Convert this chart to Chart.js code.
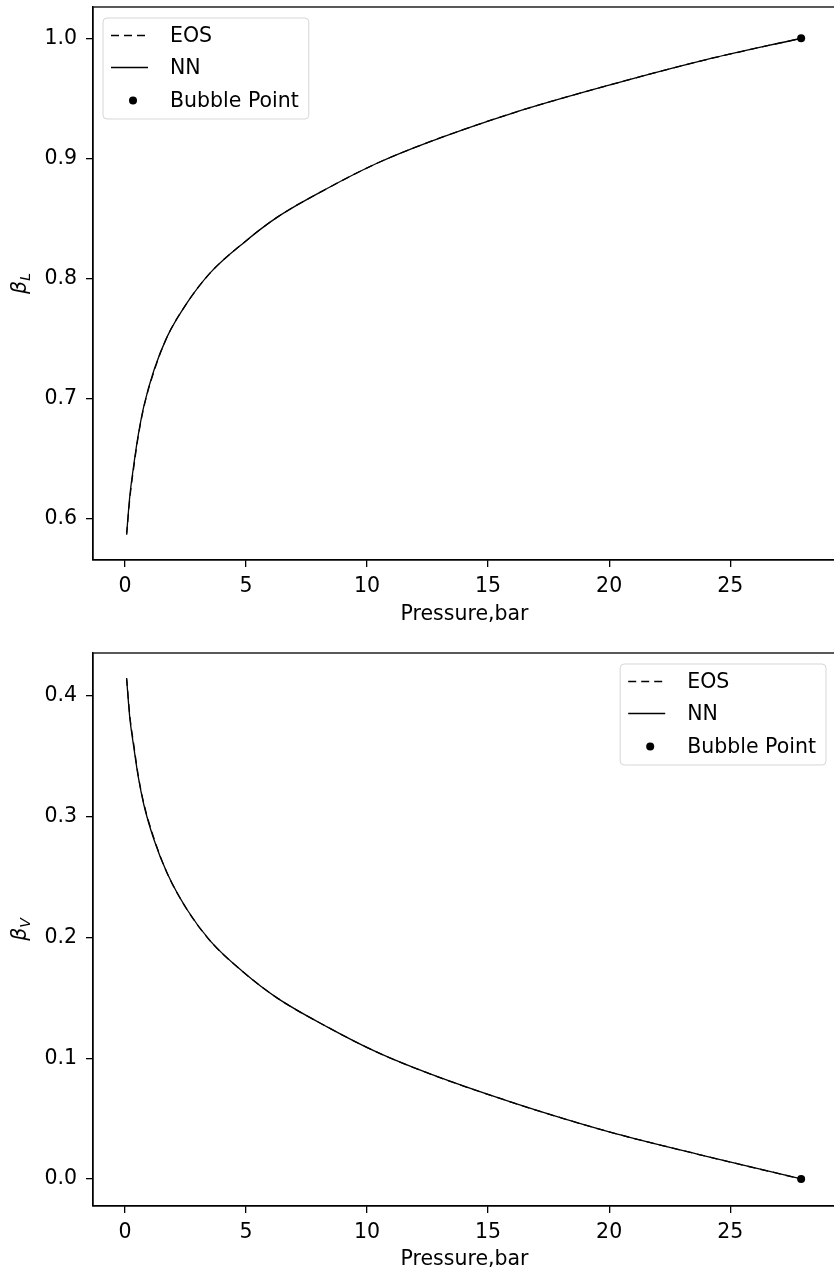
<!DOCTYPE html>
<html>
<head>
<meta charset="utf-8">
<script src="https://cdn.jsdelivr.net/npm/chart.js@4.4.1/dist/chart.umd.min.js"></script>
<style>
    html, body { margin: 0; padding: 0; background: #fff; overflow: hidden; }
    #wrap { position: relative; width: 834px; height: 1274px; overflow: hidden; }
    canvas { position: absolute; left: 0; }
    #chartLiquid { top: 0; }
    #chartVapor { top: 640px; }
</style>
</head>
<body>
<div id="wrap">
    <canvas id="chartLiquid" width="840" height="640"></canvas>
    <canvas id="chartVapor" width="840" height="634"></canvas>
</div>
<script>
// valores
const pressure = [0.07, 0.2, 0.37, 0.55, 0.78, 1.2, 1.75, 2.57, 3.53, 4.91, 6.28, 8.35, 10.41, 12.47,
    16.05, 20.0, 23.76, 27.93];
const eosLiquid = [0.587, 0.617, 0.644, 0.669, 0.693, 0.723, 0.752, 0.780, 0.805, 0.830, 0.851, 0.875,
    0.896, 0.913, 0.938, 0.961, 0.981, 1.0];
const nnLiquid = [0.588, 0.619, 0.646, 0.670, 0.694, 0.724, 0.752, 0.780, 0.805, 0.830, 0.851, 0.875,
    0.896, 0.913, 0.938, 0.961, 0.981, 1.0];
const eosVapor = [0.415, 0.384, 0.359, 0.334, 0.311, 0.282, 0.253, 0.223, 0.197, 0.171, 0.150, 0.126,
    0.105, 0.088, 0.063, 0.039, 0.020, 0.0];
const nnVapor = [0.414, 0.382, 0.357, 0.333, 0.310, 0.281, 0.253, 0.223, 0.197, 0.171, 0.150, 0.126,
    0.105, 0.088, 0.063, 0.039, 0.020, 0.0];
const bubblePressure = [27.93];
const bubbleLiquid = [1.0];
const bubbleVapor = [0.0];

const xTicks = [0, 5, 10, 15, 20, 25];
const yTicksLiquid = [0.6, 0.7, 0.8, 0.9, 1.0];
const yTicksVapor = [0.0, 0.1, 0.2, 0.3, 0.4];

const FONT = '"DejaVu Sans", sans-serif';
const FONT_SIZE = 20.5;

const toPoints = (xs, ys) => xs.map((x, i) => ({ x, y: ys[i] }));

// marco completo (los 4 lados) como en matplotlib
const framePlugin = {
    id: 'frame',
    afterDatasetsDraw(chart) {
        const { ctx, chartArea: a } = chart;
        ctx.save();
        ctx.strokeStyle = '#000';
        ctx.lineWidth = 1.3;
        ctx.strokeRect(a.left, a.top, a.right - a.left, a.bottom - a.top);
        ctx.restore();
    }
};

// titulo del eje y con subindice (beta_L / beta_V)
const yTitlePlugin = (symbol, sub) => ({
    id: 'yTitle',
    afterDraw(chart) {
        const { ctx, chartArea: a } = chart;
        const cy = (a.top + a.bottom) / 2;
        ctx.save();
        ctx.translate(20, cy);
        ctx.rotate(-Math.PI / 2);
        ctx.fillStyle = '#000';
        ctx.textBaseline = 'alphabetic';
        ctx.textAlign = 'left';
        ctx.font = `italic ${FONT_SIZE}px ${FONT}`;
        const w1 = ctx.measureText(symbol).width;
        ctx.font = `italic 14px ${FONT}`;
        const w2 = ctx.measureText(sub).width;
        const start = -(w1 + w2) / 2;
        ctx.font = `italic ${FONT_SIZE}px ${FONT}`;
        ctx.fillText(symbol, start, 6);
        ctx.font = `italic 14px ${FONT}`;
        ctx.fillText(sub, start + w1, 10);
        ctx.restore();
    }
});

// leyenda dentro del area del grafico
const legendBoxPlugin = (corner) => ({
    id: 'legendBox',
    afterDraw(chart) {
        const { ctx, chartArea: a } = chart;
        const items = chart.data.datasets;
        ctx.save();
        ctx.font = `${FONT_SIZE}px ${FONT}`;
        const textW = Math.max(...items.map(d => ctx.measureText(d.label).width));
        const w = 67 + textW + 10;
        const h = 101;
        const left = corner === 'left' ? a.left + 10 : a.right - 10 - w;
        const top = a.top + 11;

        ctx.beginPath();
        ctx.roundRect(left, top, w, h, 4);
        ctx.fillStyle = 'rgba(255,255,255,0.8)';
        ctx.fill();
        ctx.strokeStyle = 'rgba(204,204,204,0.8)';
        ctx.lineWidth = 1;
        ctx.stroke();

        const rows = [17.5, 49.5, 82.5];
        items.forEach((d, i) => {
            const y = top + rows[i];
            if (d.showLine) {
                ctx.beginPath();
                ctx.setLineDash(d.borderDash || []);
                ctx.strokeStyle = d.borderColor;
                ctx.lineWidth = d.borderWidth;
                ctx.moveTo(left + 8, y);
                ctx.lineTo(left + 45, y);
                ctx.stroke();
                ctx.setLineDash([]);
            } else {
                ctx.beginPath();
                ctx.fillStyle = d.backgroundColor;
                ctx.arc(left + 30, y, d.pointRadius, 0, Math.PI * 2);
                ctx.fill();
            }
            ctx.fillStyle = '#000';
            ctx.textBaseline = 'middle';
            ctx.textAlign = 'left';
            ctx.fillText(d.label, left + 67, y + 1);
        });
        ctx.restore();
    }
});

const buildChart = (canvasId, cfg) => {
    const canvas = document.getElementById(canvasId);
    if (!canvas || typeof Chart === 'undefined') return;

    new Chart(canvas.getContext('2d'), {
        type: 'scatter',
        data: {
            datasets: [{
                label: 'EOS',
                data: toPoints(pressure, cfg.eos),
                showLine: true,
                borderColor: '#000',
                borderWidth: 1.3,
                borderDash: [8, 5],
                pointRadius: 0,
                cubicInterpolationMode: 'monotone'
            }, {
                label: 'NN',
                data: toPoints(pressure, cfg.nn),
                showLine: true,
                borderColor: '#000',
                borderWidth: 1.3,
                pointRadius: 0,
                cubicInterpolationMode: 'monotone'
            }, {
                label: 'Bubble Point',
                data: toPoints(bubblePressure, cfg.bubble),
                showLine: false,
                backgroundColor: '#000',
                borderColor: '#000',
                pointRadius: 4,
                borderWidth: 0
            }]
        },
        options: {
            responsive: false,
            animation: false,
            devicePixelRatio: 1,
            layout: {
                padding: { left: 0, right: 4, top: cfg.padTop, bottom: 0 }
            },
            plugins: {
                legend: { display: false },
                tooltip: { enabled: false }
            },
            scales: {
                x: {
                    type: 'linear',
                    min: -1.32,
                    max: 29.37,
                    afterBuildTicks: (scale) => { scale.ticks = xTicks.map(value => ({ value })); },
                    afterFit: (scale) => {
                        scale.height = cfg.xHeight;
                        scale.paddingLeft = 0;
                        scale.paddingRight = 0;
                    },
                    grid: { drawOnChartArea: false, drawTicks: true, tickLength: 7, color: '#000', lineWidth: 1.3 },
                    border: { display: true, color: '#000', width: 1.3 },
                    ticks: {
                        color: '#000',
                        padding: 7,
                        font: { family: FONT, size: FONT_SIZE },
                        callback: (v) => String(v)
                    },
                    title: {
                        display: true,
                        text: 'Pressure,bar',
                        color: '#000',
                        font: { family: FONT, size: FONT_SIZE },
                        padding: { top: 0, bottom: cfg.titlePad }
                    }
                },
                y: {
                    type: 'linear',
                    min: cfg.yMin,
                    max: cfg.yMax,
                    afterBuildTicks: (scale) => { scale.ticks = cfg.yTicks.map(value => ({ value })); },
                    afterFit: (scale) => {
                        scale.width = 93;
                        scale.paddingTop = 0;
                        scale.paddingBottom = 0;
                    },
                    grid: { drawOnChartArea: false, drawTicks: true, tickLength: 7, color: '#000', lineWidth: 1.3 },
                    border: { display: true, color: '#000', width: 1.3 },
                    ticks: {
                        color: '#000',
                        padding: 9,
                        font: { family: FONT, size: FONT_SIZE },
                        callback: (v) => v.toFixed(1)
                    }
                }
            }
        },
        plugins: [framePlugin, yTitlePlugin('β', cfg.sub), legendBoxPlugin(cfg.legendCorner)]
    });
};

const initCharts = () => {
    buildChart('chartLiquid', {
        eos: eosLiquid, nn: nnLiquid, bubble: bubbleLiquid,
        yMin: 0.566, yMax: 1.026, yTicks: yTicksLiquid, sub: 'L',
        padTop: 7, xHeight: 80, titlePad: 13, legendCorner: 'left'
    });
    buildChart('chartVapor', {
        eos: eosVapor, nn: nnVapor, bubble: bubbleVapor,
        yMin: -0.0224, yMax: 0.4357, yTicks: yTicksVapor, sub: 'V',
        padTop: 13, xHeight: 68, titlePad: 2, legendCorner: 'right'
    });
};

document.addEventListener('DOMContentLoaded', initCharts);
</script>
</body>
</html>
